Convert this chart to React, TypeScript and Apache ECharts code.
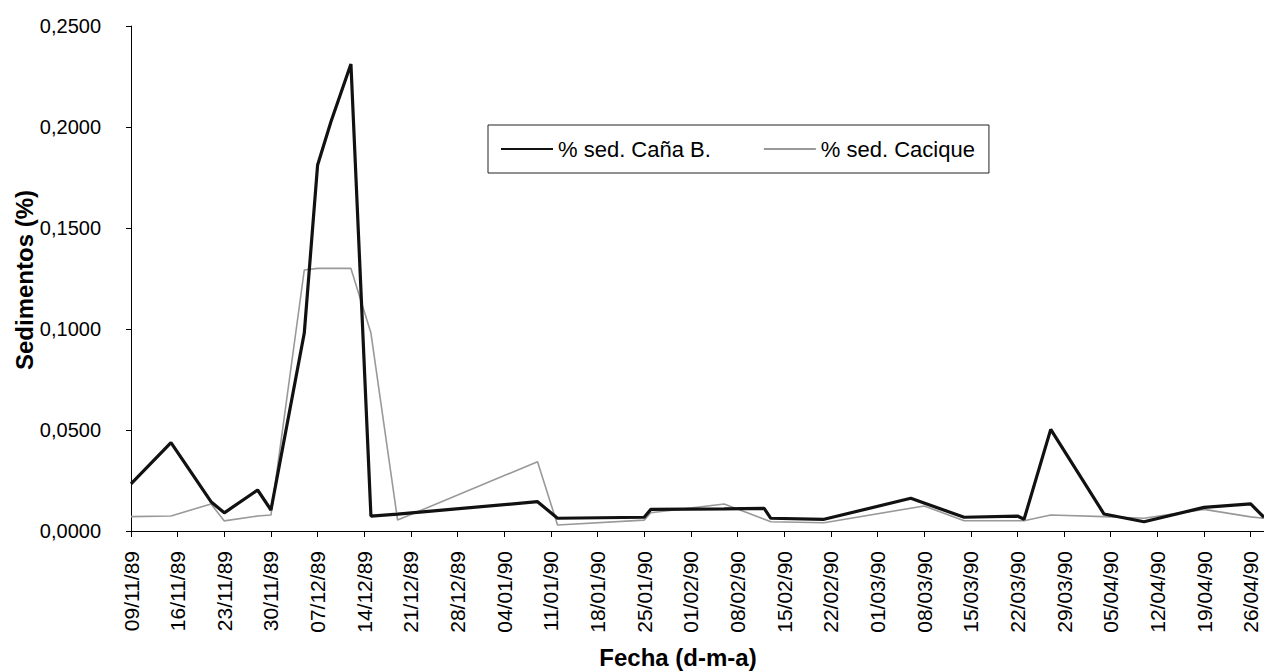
import React, { useEffect, useRef } from "react";
import * as echarts from "echarts";

// ---- data ----
const START_DATE = "1989-11-09";
const AXIS_END_DATE = "1990-04-28";

const canaDates = [
  "1989-11-09", "1989-11-15", "1989-11-21", "1989-11-23", "1989-11-28", "1989-11-30",
  "1989-12-05", "1989-12-07", "1989-12-09", "1989-12-12", "1989-12-15", "1989-12-19",
  "1990-01-09", "1990-01-12", "1990-01-25", "1990-01-26", "1990-02-06", "1990-02-12",
  "1990-02-13", "1990-02-21", "1990-03-06", "1990-03-14", "1990-03-22", "1990-03-23",
  "1990-03-27", "1990-04-04", "1990-04-10", "1990-04-19", "1990-04-26", "1990-04-28",
];
const canaValues = [
  0.0233, 0.0437, 0.0145, 0.009, 0.0203, 0.0104,
  0.098, 0.1812, 0.2026, 0.2312, 0.0074, 0.0084,
  0.0145, 0.0063, 0.0068, 0.0107, 0.011, 0.0112,
  0.0063, 0.0058, 0.0162, 0.0068, 0.0074, 0.0058,
  0.0503, 0.0084, 0.0046, 0.0117, 0.0134, 0.0068,
];

const caciqueDates = [
  "1989-11-09", "1989-11-15", "1989-11-21", "1989-11-23", "1989-11-28", "1989-11-30",
  "1989-12-05", "1989-12-07", "1989-12-09", "1989-12-12", "1989-12-15", "1989-12-19",
  "1990-01-09", "1990-01-12", "1990-01-25", "1990-01-26", "1990-02-06", "1990-02-13",
  "1990-02-21", "1990-03-08", "1990-03-14", "1990-03-23", "1990-03-27", "1990-04-04",
  "1990-04-10", "1990-04-19", "1990-04-26", "1990-04-28",
];
const caciqueValues = [
  0.0071, 0.0074, 0.0134, 0.005, 0.0074, 0.0079,
  0.1292, 0.13, 0.13, 0.13, 0.098, 0.0054,
  0.0343, 0.003, 0.0054, 0.009, 0.0134, 0.0046,
  0.0041, 0.0124, 0.0051, 0.0051, 0.0079, 0.0071,
  0.0063, 0.0107, 0.007, 0.0063,
];

const seriesNames = ["% sed. Caña B.", "% sed. Cacique"];
const yAxisTitle = "Sedimentos (%)";
const xAxisTitle = "Fecha (d-m-a)";
const yMin = 0;
const yMax = 0.25;
const yStep = 0.05;
const xTickStepDays = 7;

// ---- helpers ----
const DAY_MS = 86400000;
const parseUTC = (s: string) => {
  const [y, m, d] = s.split("-").map(Number);
  return Date.UTC(y, m - 1, d);
};
const startMs = parseUTC(START_DATE);
const toDay = (s: string) => Math.round((parseUTC(s) - startMs) / DAY_MS);
const pad = (n: number) => (n < 10 ? "0" + n : String(n));
const fmtDay = (v: number) => {
  const dt = new Date(startMs + v * DAY_MS);
  return (
    pad(dt.getUTCDate()) +
    "/" +
    pad(dt.getUTCMonth() + 1) +
    "/" +
    pad(dt.getUTCFullYear() % 100)
  );
};

const FONT = 'Arial, "Liberation Sans", Helvetica, sans-serif';
const BLACK = "#111111";
const GRAY = "#999999";

export default function App() {
  const ref = useRef<HTMLDivElement>(null);

  useEffect(() => {
    if (!ref.current) return;
    const chart = echarts.init(ref.current, null, { renderer: "svg" });
    const axisEnd = toDay(AXIS_END_DATE);

    chart.setOption({
      animation: false,
      backgroundColor: "#ffffff",
      textStyle: { fontFamily: FONT },
      grid: { left: 131, right: 0, top: 26, bottom: 140, containLabel: false },
      legend: {
        show: true,
        left: 488,
        top: 125,
        orient: "horizontal",
        data: seriesNames,
        itemWidth: 52,
        itemHeight: 2,
        itemGap: 52,
        padding: [13, 14, 13, 12],
        borderColor: "#222",
        borderWidth: 1,
        backgroundColor: "#fff",
        itemStyle: { opacity: 0 },
        textStyle: { fontSize: 22, color: "#000", fontFamily: FONT, padding: [0, 0, 0, 0] },
      },
      graphic: [
        {
          type: "text",
          x: 24,
          y: 280,
          rotation: Math.PI / 2,
          style: {
            text: yAxisTitle,
            fontSize: 24,
            fontWeight: "bold",
            fontFamily: FONT,
            fill: "#000",
            align: "center",
            verticalAlign: "middle",
          },
        },
        {
          type: "text",
          x: 678,
          y: 657,
          style: {
            text: xAxisTitle,
            fontSize: 24,
            fontWeight: "bold",
            fontFamily: FONT,
            fill: "#000",
            align: "center",
            verticalAlign: "middle",
          },
        },
      ],
      xAxis: {
        type: "value",
        min: 0,
        max: axisEnd,
        interval: xTickStepDays,
        axisLine: { show: true, onZero: false, lineStyle: { color: "#000", width: 1 } },
        axisTick: { show: true, length: 6, lineStyle: { color: "#000", width: 1 } },
        splitLine: { show: false },
        axisLabel: {
          rotate: 90,
          margin: 20,
          fontSize: 21,
          color: "#000",
          fontFamily: FONT,
          showMaxLabel: false,
          formatter: (v: number) => (v % xTickStepDays === 0 ? fmtDay(v) : ""),
        },
      },
      yAxis: {
        type: "value",
        min: yMin,
        max: yMax,
        interval: yStep,
        axisLine: { show: true, lineStyle: { color: "#000", width: 1 } },
        axisTick: { show: true, length: 5, lineStyle: { color: "#000", width: 1 } },
        splitLine: { show: false },
        axisLabel: {
          margin: 30,
          fontSize: 20,
          color: "#000",
          fontFamily: FONT,
          formatter: (v: number) => v.toFixed(4).replace(".", ","),
        },
      },
      series: [
        {
          name: seriesNames[0],
          type: "line",
          symbol: "none",
          showSymbol: false,
          lineStyle: { color: BLACK, width: 3.2 },
          itemStyle: { color: BLACK },
          data: canaDates.map((d, i) => [toDay(d), canaValues[i]]),
          z: 3,
        },
        {
          name: seriesNames[1],
          type: "line",
          symbol: "none",
          showSymbol: false,
          lineStyle: { color: GRAY, width: 1.6 },
          itemStyle: { color: GRAY },
          data: caciqueDates.map((d, i) => [toDay(d), caciqueValues[i]]),
          z: 2,
        },
      ],
    });

    return () => chart.dispose();
  }, []);

  return (
    <div
      ref={ref}
      style={{ position: "absolute", left: 0, top: 0, width: 1264, height: 671 }}
    />
  );
}
